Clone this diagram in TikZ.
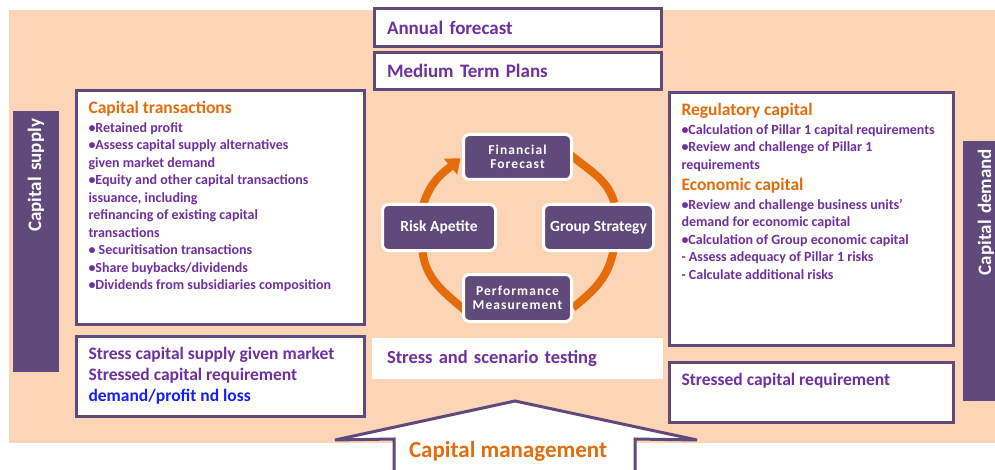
\documentclass[tikz,border=0pt]{standalone}
\usepackage{fontspec}
\setmainfont{Carlito}
\usepackage{xcolor}
\usetikzlibrary{arrows.meta,positioning}
\definecolor{peach}{RGB}{251,213,181}
\definecolor{boxline}{RGB}{96,74,123}
\definecolor{purptxt}{RGB}{112,48,160}
\definecolor{orangetxt}{RGB}{228,108,10}
\definecolor{bluetxt}{RGB}{20,30,255}
\newcommand{\head}[1]{{\color{orangetxt}\fontsize{17.5}{17.5}\selectfont #1}}
\newcommand{\boxtext}[3]{\parbox[c][#1][t]{#2}{\raggedright #3}}
\pgfdeclarelayer{back}
\pgfdeclarelayer{mid}
\pgfsetlayers{back,mid,main}

\begin{document}
\begin{tikzpicture}[
  x=1pt, y=1pt,
  every node/.style={font=\bfseries, text=purptxt},
  box/.style={draw=boxline, line width=3pt, fill=white, inner xsep=12pt, inner ysep=11pt, anchor=north west},
  plan/.style={draw=boxline, line width=3pt, fill=white, minimum width=287pt, minimum height=38pt, text width=262pt, inner xsep=12.5pt, inner ysep=0pt, align=left, font=\bfseries\fontsize{19}{21}\selectfont},
  bar/.style={fill=boxline, text=white, rotate=90, minimum height=46pt, inner xsep=8pt, align=right, font=\bfseries\fontsize{19}{21}\selectfont},
  cyc/.style={draw=white, line width=3pt, fill=boxline, rounded corners=6pt, text=white, align=center, inner sep=0pt, font=\bfseries\fontsize{15.5}{16}\selectfont},
  spaced/.style={font=\bfseries\fontsize{13.5}{14.5}\selectfont\addfontfeatures{LetterSpace=8}},
  ring/.style={draw=orangetxt, line width=8pt, shorten <=-4pt}
]
  \useasboundingbox (0,0) rectangle (995,469);
  \begin{pgfonlayer}{back}
    \fill[peach] (9,26) rectangle (995,459);
  \end{pgfonlayer}

  % plans on top
  \node[plan] (annual) at (518,441.5) {Annual forecast};
  \node[plan, minimum height=37pt, below=3pt of annual] (mtp) {Medium Term Plans};

  % supply side
  \node[bar, minimum width=261pt, text width=245pt] (supply) at (36,227.5) {Capital supply};
  \node[box] (captx) at (75,380) {\boxtext{212pt}{264pt}{\fontsize{14}{17.5}\selectfont
    \head{Capital transactions}\\[1pt]
    •Retained profit\\
    •Assess capital supply alternatives\\
    given market demand\\
    •Equity and other capital transactions\\
    issuance, including\\
    refinancing of existing capital\\
    transactions\\
    • Securitisation transactions\\
    •Share buybacks/dividends\\
    •Dividends from subsidiaries composition}};
  \node[box, below=9pt of captx] (supstress) {\boxtext{58pt}{264pt}{\fontsize{17.5}{21}\selectfont
    Stress capital supply given market\\
    Stressed capital requirement\\
    {\color{bluetxt}demand/profit nd loss}}};

  % demand side
  \node[bar, minimum width=260pt, text width=244pt] (demand) at (986,198) {Capital demand};
  \node[box, inner xsep=12pt] (regcap) at (668,378) {\boxtext{231pt}{260pt}{\fontsize{14}{17.5}\selectfont
    \head{Regulatory capital}\\[1pt]
    •Calculation of Pillar 1 capital requirements\\
    •Review and challenge of Pillar 1\\
    requirements\\[4pt]
    \head{Economic capital}\\[1pt]
    •Review and challenge business units’\\
    demand for economic capital\\
    •Calculation of Group economic capital\\
    - Assess adequacy of Pillar 1 risks\\
    - Calculate additional risks}};
  \node[box, inner xsep=12pt, below=14pt of regcap] (demstress) {\boxtext{38pt}{260pt}{\fontsize{17.5}{21}\selectfont
    Stressed capital requirement}};

  % cycle
  \node[cyc, spaced, minimum width=108pt, minimum height=45pt] (fin) at (517.5,312) {Financial\\Forecast};
  \node[cyc, minimum width=113pt, minimum height=46pt] (risk) at (439,241.5) {Risk Apetite};
  \node[cyc, minimum width=110pt, minimum height=46pt] (group) at (598.5,241.5) {Group Strategy};
  \node[cyc, spaced, minimum width=108pt, minimum height=47pt] (perf) at (517.5,171) {Performance\\Measurement};
  \begin{pgfonlayer}{mid}
    \draw[ring, -{Triangle[width=20pt,length=13pt]}, shorten >=2pt] (risk.122) to[out=74, in=220] (fin.west);
    \draw[ring] (fin.east) to[out=-39, in=106] (group.57);
    \draw[ring] (group.-59) to[out=-100, in=40] (perf.-10);
    \draw[ring] (perf.190) to[out=140, in=278] (risk.236);
  \end{pgfonlayer}

  \node[fill=white, minimum width=291pt, minimum height=41pt, text width=261pt, inner xsep=15pt, align=left, font=\bfseries\fontsize{18.5}{20}\selectfont] (scen) at (517.5,110.5) {Stress and scenario testing};

  % capital management arrow
  \draw[boxline, line width=3pt, fill=white] (394,-5) -- (394,30) -- (335,29) -- (515,68) -- (697,29) -- (635,30) -- (635,-5);
  \node[text=orangetxt, font=\bfseries\fontsize{23}{26}\selectfont, anchor=base] (capmgmt) at (508,12) {Capital management};
\end{tikzpicture}
\end{document}
